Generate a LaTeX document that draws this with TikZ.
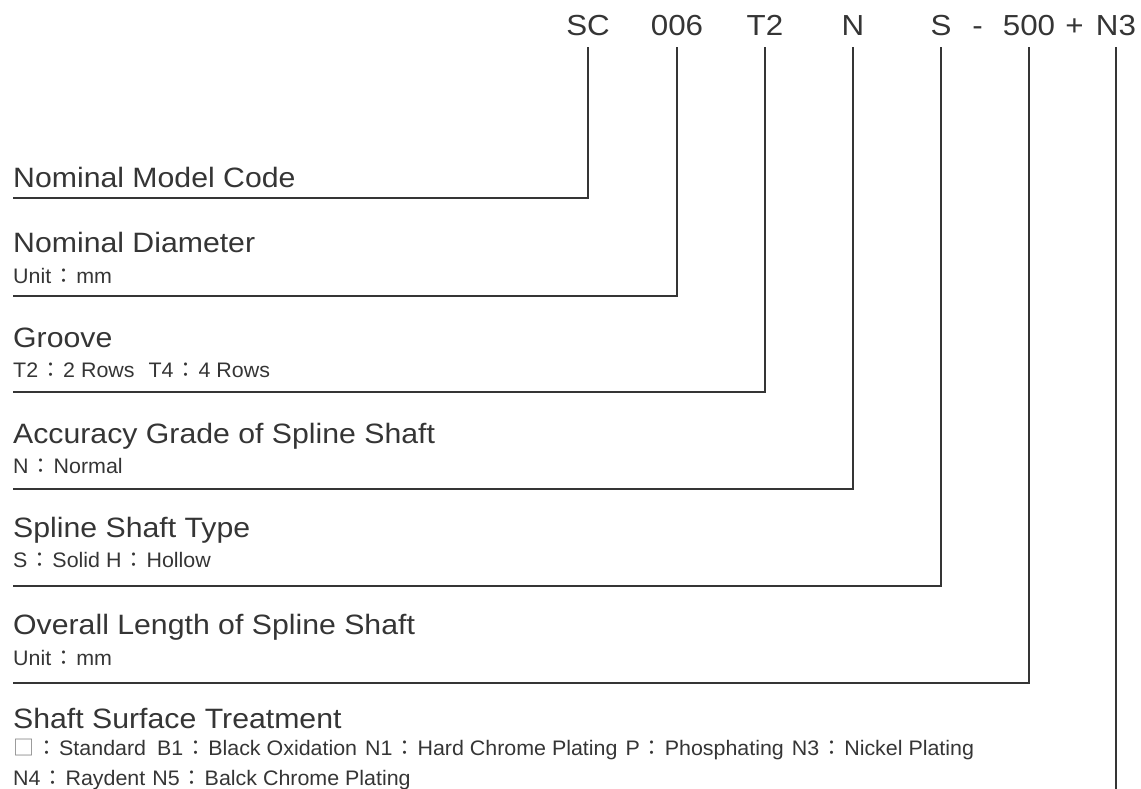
\documentclass[tikz,border=0pt]{standalone}
\usepackage{fontspec}
\setmainfont{Liberation Sans}
\newfontfamily\headfont{Liberation Sans}[FakeStretch=1.08]
\newfontfamily\subfont{Liberation Sans}[FakeStretch=1.02]
\newfontfamily\cjk{Noto Sans CJK TC}
\newcommand{\fc}{\hspace{2pt}{\cjk ：}\hspace{2pt}}
\usetikzlibrary{positioning}
\definecolor{ink}{HTML}{353535}

\tikzset{
  code/.style = {inner sep=0pt, anchor=base, text=ink,
                 font=\headfont\fontsize{29}{34}\selectfont},
  head/.style = {inner sep=0pt, anchor=base west, text=ink,
                 font=\headfont\fontsize{28}{34}\selectfont},
  sub/.style  = {inner sep=0pt, anchor=base west, text=ink,
                 font=\subfont\fontsize{21}{25}\selectfont},
  leader/.style = {draw=ink, line width=1.2pt},
}

\begin{document}
\begin{tikzpicture}[x=1pt, y=-1pt]
\useasboundingbox (0,0) rectangle (1141,789);

% model code
\node[code] (sc)   at (588,36)    {SC};
\node[code] (dia)  at (677,36)    {006};
\node[code] (grv)  at (765,36)    {T2};
\node[code] (acc)  at (853,36)    {N};
\node[code] (typ)  at (941,36)    {S};
\node[code] (dash) at (977.5,36)  {-};
\node[code] (len)  at (1029,36)   {500};
\node[code] (plus) at (1074.5,36) {+};
\node[code] (srf)  at (1116,36)   {N3};

% descriptions
\node[head] (h-sc)  at (13,187) {Nominal Model Code};
\node[head] (h-dia) at (13,252) {Nominal Diameter};
\node[sub]  (s-dia) at (13,283) {Unit\fc mm};
\node[head] (h-grv) at (13,347) {Groove};
\node[sub]  (s-grv) at (13,377) {T2\fc 2 Rows\hspace{14pt}T4\fc 4 Rows};
\node[head] (h-acc) at (13,443) {Accuracy Grade of Spline Shaft};
\node[sub]  (s-acc) at (13,473) {N\fc Normal};
\node[head] (h-typ) at (13,537) {Spline Shaft Type};
\node[sub]  (s-typ) at (13,567) {S\fc Solid\hspace{6pt}H\fc Hollow};
\node[head] (h-len) at (13,634) {Overall Length of Spline Shaft};
\node[sub]  (s-len) at (13,665) {Unit\fc mm};
\node[head] (h-srf) at (13,728) {Shaft Surface Treatment};
\node[sub]  (s-srf) at (13,755) {{\cjk\color{gray}□}\fc Standard\hspace{11pt}B1\fc Black Oxidation\hspace{8pt}N1\fc Hard Chrome Plating\hspace{8pt}P\fc Phosphating\hspace{8pt}N3\fc Nickel Plating};
\node[sub]  (t-srf) at (13,785) {N4\fc Raydent\hspace{7pt}N5\fc Balck Chrome Plating};

% leader lines
\coordinate (e-sc)  at (13,198);
\coordinate (e-dia) at (13,296);
\coordinate (e-grv) at (13,392);
\coordinate (e-acc) at (13,489);
\coordinate (e-typ) at (13,586);
\coordinate (e-len) at (13,683);
\coordinate (e-srf) at (1116,789);

\draw[leader] ([yshift=-11pt]sc.south)  |- (e-sc);
\draw[leader] ([yshift=-11pt]dia.south) |- (e-dia);
\draw[leader] ([yshift=-11pt]grv.south) |- (e-grv);
\draw[leader] ([yshift=-11pt]acc.south) |- (e-acc);
\draw[leader] ([yshift=-11pt]typ.south) |- (e-typ);
\draw[leader] ([yshift=-11pt]len.south) |- (e-len);
\draw[leader] ([yshift=-11pt]srf.south) -- (e-srf);
\end{tikzpicture}
\end{document}
